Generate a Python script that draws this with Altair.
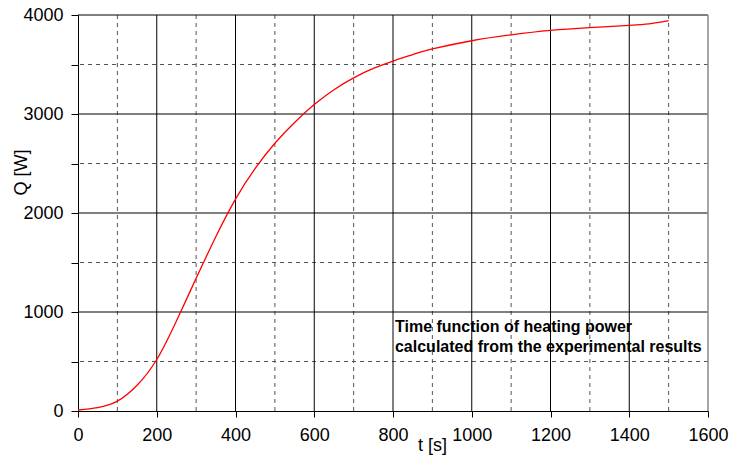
import altair as alt
import pandas as pd

# Heating power over time
t_s = [0, 50, 100, 150, 200, 250, 300, 350, 400, 450, 500, 550, 600, 650, 700,
       750, 800, 850, 900, 1000, 1100, 1200, 1300, 1400, 1450, 1500]
q_w = [10, 35, 100, 260, 520, 910, 1340, 1760, 2140, 2450, 2705, 2915, 3095, 3245, 3365,
       3460, 3535, 3600, 3657, 3740, 3800, 3845, 3873, 3895, 3910, 3943]

x_major = [200, 400, 600, 800, 1000, 1200, 1400]
x_minor = [100, 300, 500, 700, 900, 1100, 1300, 1500]
y_major = [1000, 2000, 3000, 4000]
y_minor = [500, 1500, 2500, 3500]
x_ticks = list(range(0, 1601, 100))
y_ticks = list(range(0, 4001, 500))

note_lines = ["Time function of heating power", "calculated from the experimental results"]
note_t = 805
note_q = 800

FONT = "Liberation Sans"

xs = alt.Scale(domain=[0, 1600], nice=False)
ys = alt.Scale(domain=[0, 4000], nice=False)

curve_df = pd.DataFrame({"t": t_s, "Q": q_w})

x_axis = alt.Axis(
    values=x_ticks, grid=False, labelExpr="datum.value % 200 === 0 ? datum.label : ''",
    format="d", tickSize=6, tickColor="black", domainColor="black", labelFont=FONT,
    labelFontSize=18, labelColor="black", labelPadding=9, labelFlush=False,
    title="t [s]", titleFont=FONT, titleFontSize=18, titleFontWeight="normal",
    titleColor="black", titleX=354, titleY=39, titleBaseline="alphabetic",
)
y_axis = alt.Axis(
    values=y_ticks, grid=False, labelExpr="datum.value % 1000 === 0 ? datum.label : ''",
    format="d", tickSize=7, tickColor="black", domainColor="black", labelFont=FONT,
    labelFontSize=18, labelColor="black", labelPadding=8, labelFlush=False,
    title="Q [W]", titleFont=FONT, titleFontSize=18, titleFontWeight="normal",
    titleColor="black", titleAngle=-90, titleX=-52, titleY=157, titleBaseline="alphabetic",
)

xmin_df = pd.DataFrame({"v": x_minor})
xmaj_df = pd.DataFrame({"v": x_major})
ymin_df = pd.DataFrame({"v": y_minor})
ymaj_df = pd.DataFrame({"v": y_major})

grid_x_minor = alt.Chart(xmin_df).mark_rule(color="#555555", strokeDash=[4, 4], strokeWidth=1).encode(
    x=alt.X("v:Q", scale=xs))
grid_y_minor = alt.Chart(ymin_df).mark_rule(color="#555555", strokeDash=[4, 4], strokeWidth=1).encode(
    y=alt.Y("v:Q", scale=ys))
grid_x_major = alt.Chart(xmaj_df).mark_rule(color="black", strokeWidth=1).encode(
    x=alt.X("v:Q", scale=xs))
grid_y_major = alt.Chart(ymaj_df).mark_rule(color="black", strokeWidth=1).encode(
    y=alt.Y("v:Q", scale=ys))
right_edge = alt.Chart(pd.DataFrame({"v": [1600]})).mark_rule(color="#888888", strokeWidth=1.5).encode(
    x=alt.X("v:Q", scale=xs))

curve = alt.Chart(curve_df).mark_line(color="#ff0000", strokeWidth=1.3, interpolate="natural").encode(
    x=alt.X("t:Q", scale=xs, axis=x_axis),
    y=alt.Y("Q:Q", scale=ys, axis=y_axis),
)

note = alt.Chart(pd.DataFrame({"t": [note_t], "Q": [note_q], "txt": ["\n".join(note_lines)]})).mark_text(
    align="left", baseline="alphabetic", font=FONT, fontSize=16, fontWeight="bold",
    color="black", lineBreak="\n", lineHeight=20,
).encode(x=alt.X("t:Q", scale=xs), y=alt.Y("Q:Q", scale=ys), text="txt:N")

chart = alt.layer(
    grid_x_minor, grid_y_minor, grid_x_major, grid_y_major, right_edge, curve, note
).properties(
    width=630, height=396,
    autosize=alt.AutoSizeParams(type="none"),
    padding={"left": 78, "top": 15, "right": 29, "bottom": 46},
    background="white",
).configure_view(stroke=None)

chart.save("out.html", embed_options={"renderer": "svg", "actions": False})
